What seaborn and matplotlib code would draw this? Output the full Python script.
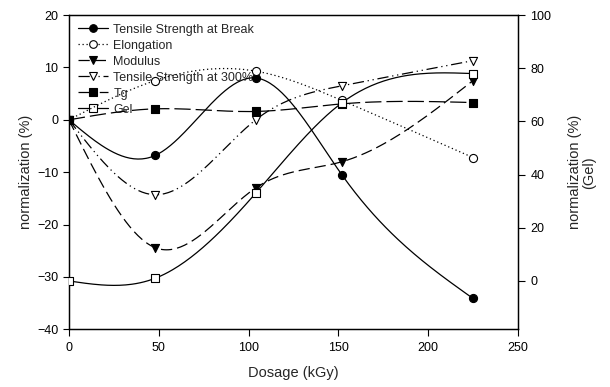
import numpy as np
import pandas as pd
import matplotlib
matplotlib.use("Agg")
import matplotlib.pyplot as plt
from matplotlib.lines import Line2D
import seaborn as sns

# Irradiation dose (kGy)
dosage = [0, 48, 104, 152, 225]

# Normalized property change (%) on the left axis
tensile_break = [0, -6.8, 8.0, -10.5, -34.1]
elongation = [0, 7.5, 9.3, 3.7, -7.2]
modulus = [0, -24.4, -13.0, -8.0, 7.5]
tensile_300 = [0, -14.3, 0.0, 6.5, 11.3]
tg = [0, 2.1, 1.6, 3.05, 3.3]

# Gel content (%) on the right axis
gel = [0, 1.0, 33.0, 67.0, 78.0]

left_ticks = [-40, -30, -20, -10, 0, 10, 20]
right_ticks = [0, 20, 40, 60, 80, 100]
x_ticks = [0, 50, 100, 150, 200, 250]


def natural_spline(x, y, n=200):
    """Natural cubic spline through the given knots, sampled densely."""
    x = np.asarray(x, float)
    y = np.asarray(y, float)
    k = len(x)
    h = np.diff(x)
    A = np.zeros((k, k))
    r = np.zeros(k)
    A[0, 0] = A[-1, -1] = 1
    for i in range(1, k - 1):
        A[i, i - 1] = h[i - 1]
        A[i, i] = 2 * (h[i - 1] + h[i])
        A[i, i + 1] = h[i]
        r[i] = 3 * ((y[i + 1] - y[i]) / h[i] - (y[i] - y[i - 1]) / h[i - 1])
    c = np.linalg.solve(A, r)
    xs = np.linspace(x[0], x[-1], n)
    ys = np.empty_like(xs)
    for j, xv in enumerate(xs):
        i = min(np.searchsorted(x, xv, side="right") - 1, k - 2)
        d = xv - x[i]
        b = (y[i + 1] - y[i]) / h[i] - h[i] * (2 * c[i] + c[i + 1]) / 3
        dd = (c[i + 1] - c[i]) / (3 * h[i])
        ys[j] = y[i] + b * d + c[i] * d ** 2 + dd * d ** 3
    return xs, ys


sns.set_style("ticks")
plt.rcParams["font.family"] = ["Liberation Sans", "DejaVu Sans"]

fig = plt.figure(figsize=(6.1, 3.87), dpi=100)
ax = fig.add_axes([0.113, 0.149, 0.736, 0.812])
ax2 = ax.twinx()

series = [
    ("Tensile Strength at Break", tensile_break, "o", "black", "-", ax),
    ("Elongation", elongation, "o", "white", (0, (1, 2.2)), ax),
    ("Modulus", modulus, "v", "black", (0, (9, 4)), ax),
    ("Tensile Strength at 300%", tensile_300, "v", "white", (0, (9, 3, 1, 3, 1, 3)), ax),
    ("Tg", tg, "s", "black", (0, (13, 4)), ax),
    ("Gel", gel, "s", "white", "-", ax2),
]

handles = []
for name, vals, mk, fc, ls, a in series:
    xs, ys = natural_spline(dosage, vals)
    a.plot(xs, ys, color="black", linewidth=0.9, linestyle=ls, zorder=2)
    df = pd.DataFrame({"Dosage": dosage, "value": vals})
    sns.scatterplot(data=df, x="Dosage", y="value", ax=a, marker=mk, s=34,
                    color=fc, edgecolor="black", linewidth=0.8, zorder=3,
                    legend=False)
    handles.append(Line2D([], [], color="black", linewidth=0.9, linestyle=ls,
                          marker=mk, markersize=5.5, markerfacecolor=fc,
                          markeredgecolor="black", markeredgewidth=0.8))

ax.set_xlim(0, 250)
ax.set_ylim(-40, 20)
ax2.set_ylim(-18.2, 100)
ax.set_xticks(x_ticks)
ax.set_yticks(left_ticks)
ax2.set_yticks(right_ticks)

for a in (ax, ax2):
    a.tick_params(direction="out", length=5, width=0.8, labelsize=9,
                  colors="black", pad=4)
    for s in a.spines.values():
        s.set_linewidth(0.9)
        s.set_color("black")
    a.set_xlabel("")
    a.set_ylabel("")
ax.tick_params(axis="y", length=4.5, pad=3)

ax.set_xlabel("Dosage (kGy)", fontsize=10.5, labelpad=9)
ax.set_ylabel("normalization (%)", fontsize=10.5, labelpad=3)
ax2.set_ylabel("normalization (%)\n(Gel)", fontsize=10.5, labelpad=12,
               linespacing=1.0)

leg = ax.legend(handles, [s[0] for s in series], loc="upper left",
                frameon=False, fontsize=9, handlelength=2.4,
                handletextpad=0.45, labelspacing=0.32,
                bbox_to_anchor=(0.0, 1.0), borderaxespad=0.3)
leg.set_zorder(1)

fig.savefig("out.png", dpi=100)
